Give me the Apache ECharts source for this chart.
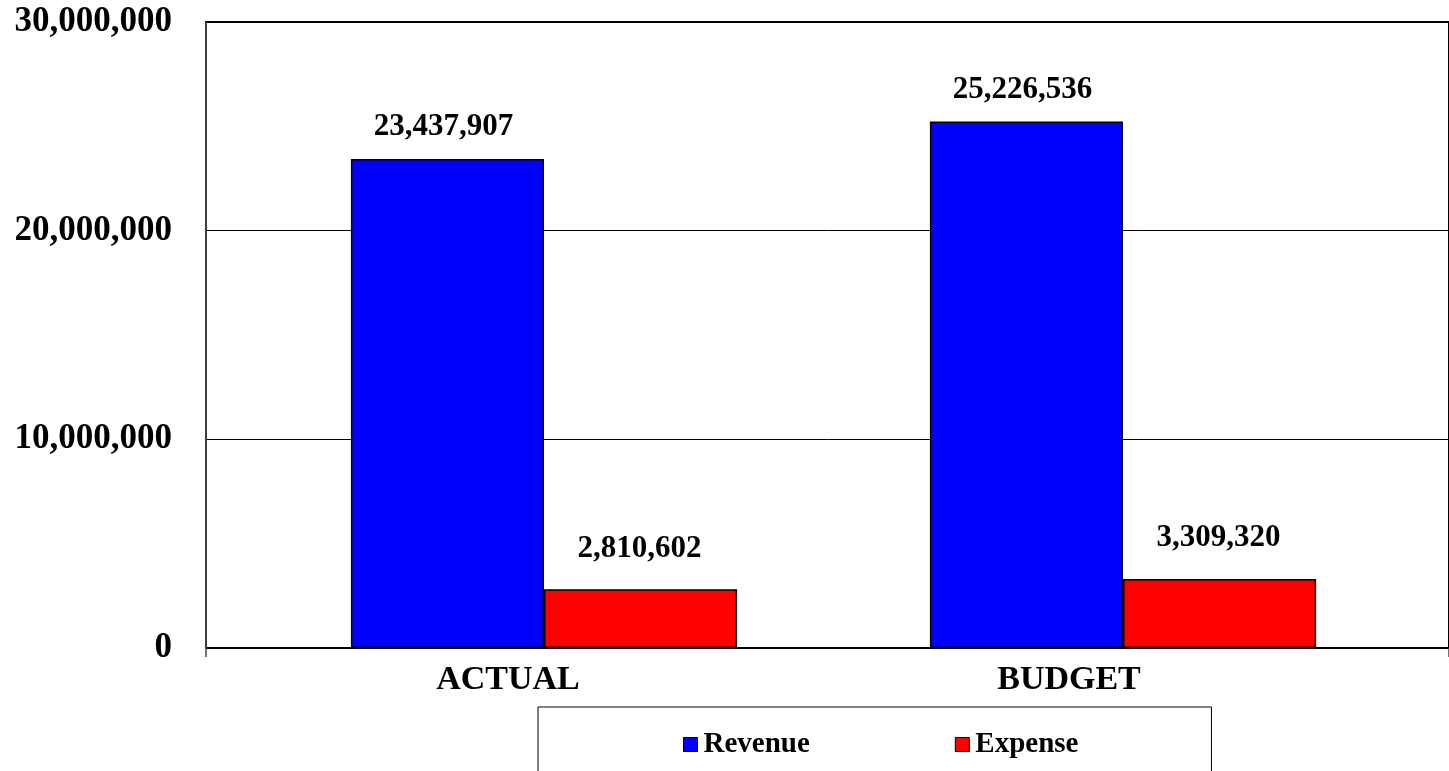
<!DOCTYPE html>
<html>
<head>
<meta charset="utf-8">
<script src="https://cdn.jsdelivr.net/npm/echarts@6/dist/echarts.min.js"></script>
<style>
  html, body { margin: 0; padding: 0; background: #fff; }
  #chart { width: 1449px; height: 771px; }
</style>
</head>
<body>
<div id="chart"></div>
<script>
// Revenue vs expense, actual and budget
const categories = ['ACTUAL', 'BUDGET'];
const revenue = [23437907, 25226536];
const expense = [2810602, 3309320];
const yMin = 0;
const yMax = 30000000;
const yStep = 10000000;

const FONT = '"Liberation Serif", "Times New Roman", serif';
const fmt = v => Math.round(v).toLocaleString('en-US');

const catStyle = { fontFamily: FONT, fontWeight: 'bold', fontSize: 34, color: '#000' };

const chart = echarts.init(document.getElementById('chart'));
chart.setOption({
  animation: false,
  backgroundColor: '#fff',
  grid: [
    // frame with value axis and gridlines (runs past the right edge)
    { left: 206, width: 1270, top: 22, bottom: 123, show: true, borderColor: '#000', borderWidth: 2, backgroundColor: 'transparent' },
    // bars
    { left: 254.5, right: 36.5, top: 22, bottom: 123 }
  ],
  xAxis: [
    {
      // only the short tick at the origin is drawn
      gridIndex: 0, type: 'value', min: 0, max: 4, interval: 4,
      axisLine: { show: false },
      splitLine: { show: false },
      axisTick: { show: true, length: 9, lineStyle: { color: '#444', width: 1.5 } },
      axisLabel: { show: false }
    },
    {
      gridIndex: 1, type: 'category', data: categories,
      axisLine: { show: false },
      axisTick: { show: false },
      axisLabel: {
        margin: 15,
        formatter: (v, i) => '{c' + i + '|' + v + '}',
        rich: {
          c0: Object.assign({ padding: [0, 72, 0, 0] }, catStyle),
          c1: Object.assign({ padding: [0, 108, 0, 0] }, catStyle)
        }
      }
    }
  ],
  yAxis: [
    {
      gridIndex: 0, type: 'value', min: yMin, max: yMax, interval: yStep,
      axisLine: { show: true, lineStyle: { color: '#555', width: 1.5 } },
      axisTick: { show: false },
      splitLine: { show: true, lineStyle: { color: '#000', width: 1 } },
      axisLabel: { fontFamily: FONT, fontWeight: 'bold', fontSize: 35, color: '#000', margin: 34, formatter: fmt }
    },
    {
      gridIndex: 1, type: 'value', min: yMin, max: yMax, interval: yStep, show: false
    }
  ],
  legend: {
    left: 538, top: 707,
    padding: [23, 133, 40, 145],
    borderColor: '#000', borderWidth: 1,
    itemWidth: 14, itemHeight: 14, itemGap: 145,
    icon: 'rect',
    textStyle: { fontFamily: FONT, fontWeight: 'bold', fontSize: 29, color: '#000', padding: [0, 0, 0, 1] },
    data: [
      { name: 'Revenue', itemStyle: { borderColor: '#000', borderWidth: 1 } },
      { name: 'Expense', itemStyle: { borderColor: '#000', borderWidth: 1 } }
    ]
  },
  series: [
    {
      name: 'Revenue', type: 'bar', xAxisIndex: 1, yAxisIndex: 1,
      data: revenue, barGap: '0%', barCategoryGap: '33.3%',
      itemStyle: { color: '#0000ff', borderColor: '#000', borderWidth: 1.5 },
      label: { show: true, position: 'top', distance: 16, offset: [-4, 0], formatter: p => fmt(p.value),
               fontFamily: FONT, fontWeight: 'bold', fontSize: 31, color: '#000' }
    },
    {
      name: 'Expense', type: 'bar', xAxisIndex: 1, yAxisIndex: 1,
      data: expense, barGap: '0%', barCategoryGap: '33.3%',
      itemStyle: { color: '#ff0000', borderColor: '#000', borderWidth: 1.5 },
      label: { show: true, position: 'top', distance: 25, offset: [-1, 0], formatter: p => fmt(p.value),
               fontFamily: FONT, fontWeight: 'bold', fontSize: 31, color: '#000' }
    }
  ]
});
</script>
</body>
</html>
